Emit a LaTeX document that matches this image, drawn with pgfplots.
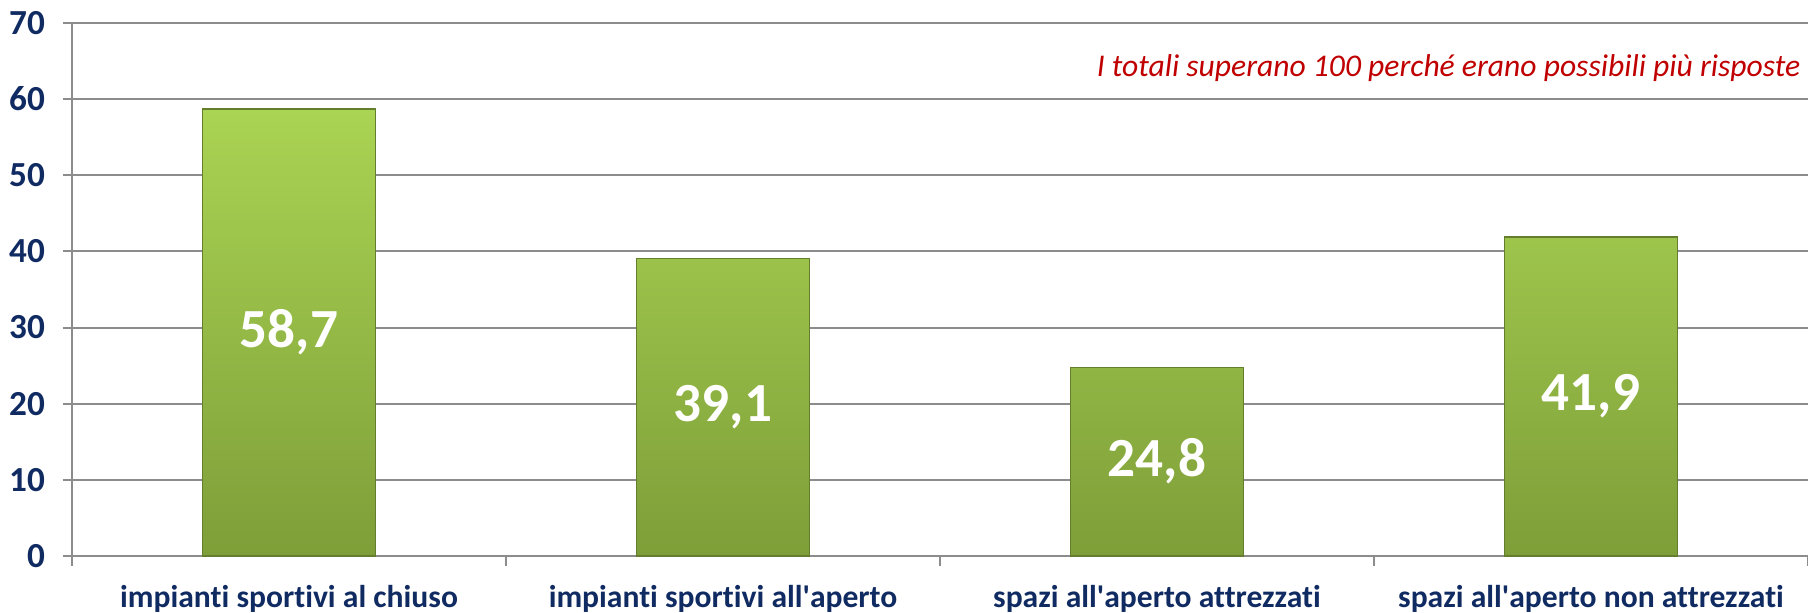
\documentclass[border=0pt]{standalone}
\usepackage{pgfplots}
\pgfplotsset{compat=1.18}
\usepackage{fontspec}
\setmainfont{Carlito}[Ligatures={NoCommon}]
\usetikzlibrary{calc}
\definecolor{navy}{HTML}{102A62}
\definecolor{gridgray}{HTML}{8C8C8C}
\definecolor{bartop}{HTML}{AAD453}
\definecolor{barbot}{HTML}{7E9E39}
\definecolor{notered}{HTML}{C00000}
\begin{document}
\begin{tikzpicture}
\begin{axis}[
  scale only axis,
  width=434pt, height=133.25pt,
  ymin=0, ymax=70, ytick distance=10,
  xmin=-0.5, xmax=3.5,
  xtick={0,1,2,3},
  xticklabels={impianti sportivi al chiuso, impianti sportivi all\textquotesingle aperto, spazi all\textquotesingle aperto attrezzati, spazi all\textquotesingle aperto non attrezzati},
  minor xtick={-0.5,0.5,1.5,2.5,3.5},
  major x tick style={draw=none},
  minor x tick style={draw=gridgray, line width=0.5pt},
  tick align=outside,
  major tick length=2.25pt, minor tick length=2.5pt,
  ytick style={draw=gridgray, line width=0.5pt},
  ymajorgrids,
  grid style={draw=gridgray, line width=0.5pt},
  axis x line*=bottom, axis y line*=left,
  axis line style={draw=gridgray, line width=0.6pt, -},
  /pgf/number format/assume math mode=true,
  yticklabel style={font=\bfseries\fontsize{8.8}{10}\selectfont, text=navy, xshift=-1pt},
  xticklabel style={font=\bfseries\fontsize{7.9}{9}\selectfont, text=navy, yshift=-1.6pt},
  ybar, bar width=0.4,
  nodes near coords={\pgfmathprintnumber[use comma,fixed,fixed zerofill,precision=1]{\pgfplotspointmeta}},
  visualization depends on=y \as \rawy,
  every node near coord/.append style={anchor=center, text=white, font=\bfseries\fontsize{13.8}{16}\selectfont, shift={(axis direction cs:0,-\rawy/2)}},
  clip=false,
]
\addplot[draw=barbot!80!black, line width=0.3pt, top color=bartop, bottom color=barbot, shading=axis] coordinates {(0,58.7) (1,39.1) (2,24.8) (3,41.9)};
\node[anchor=east, text=notered, font=\itshape\fontsize{7.9}{9}\selectfont, inner sep=0pt] at (rel axis cs:0.996,0.916) {I totali superano 100 perché erano possibili più risposte};
\coordinate (sw) at (rel axis cs:0,0);
\coordinate (ne) at (rel axis cs:1,1);
\end{axis}
\pgfresetboundingbox
\path ($(sw)+(-18pt,-14.25pt)$) rectangle ($(ne)+(0pt,5.75pt)$);
\end{tikzpicture}
\end{document}
